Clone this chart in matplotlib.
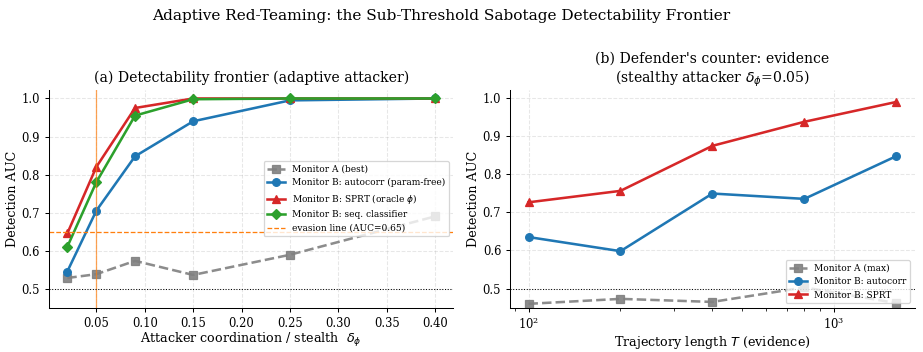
import numpy as np
import matplotlib
matplotlib.use("Agg")
import matplotlib.pyplot as plt

plt.rcParams['font.family'] = 'DejaVu Serif'

# (a) detectability frontier
delta_phi = [0.02, 0.05, 0.09, 0.15, 0.25, 0.40]
mon_a_best = [0.528, 0.538, 0.573, 0.536, 0.589, 0.690]
mon_b_autocorr = [0.545, 0.705, 0.848, 0.940, 0.995, 1.000]
mon_b_sprt = [0.645, 0.820, 0.975, 1.000, 1.000, 1.000]
mon_b_seq = [0.610, 0.780, 0.955, 0.998, 1.000, 1.000]
evasion_auc = 0.65
stealthy_delta = 0.05

# (b) evidence vs trajectory length
traj_T = [100, 200, 400, 800, 1600]
mon_a_max = [0.460, 0.473, 0.465, 0.503, 0.462]
b_autocorr = [0.635, 0.598, 0.749, 0.735, 0.847]
b_sprt = [0.726, 0.756, 0.874, 0.937, 0.989]

DPI = 92
fig, (ax1, ax2) = plt.subplots(1, 2, figsize=(923 / DPI, 352 / DPI), dpi=DPI)
fig.subplots_adjust(left=0.053, right=0.991, bottom=0.126, top=0.744, wspace=0.14)
fig.suptitle("Adaptive Red-Teaming: the Sub-Threshold Sabotage Detectability Frontier",
             fontsize=12, x=0.478, y=0.975)

# left panel
ax1.plot(delta_phi, mon_a_best, ls='--', marker='s', color='gray', lw=2, ms=6,
         alpha=0.9, label='Monitor A (best)')
ax1.plot(delta_phi, mon_b_autocorr, marker='o', color='tab:blue', lw=2, ms=6,
         label='Monitor B: autocorr (param-free)')
ax1.plot(delta_phi, mon_b_sprt, marker='^', color='tab:red', lw=2, ms=6,
         label=r'Monitor B: SPRT (oracle $\phi$)')
ax1.plot(delta_phi, mon_b_seq, marker='D', color='tab:green', lw=2, ms=6,
         label='Monitor B: seq. classifier')
ax1.axhline(evasion_auc, color='tab:orange', ls='--', lw=1,
            label='evasion line (AUC=0.65)')
ax1.axvline(stealthy_delta, color='tab:orange', lw=1, alpha=0.7)
ax1.axhline(0.5, color='black', ls=':', lw=0.8)
ax1.set_ylim(0.45, 1.022)
ax1.set_xlabel(r'Attacker coordination / stealth  $\delta_\phi$', fontsize=10, labelpad=1)
ax1.set_ylabel('Detection AUC', fontsize=10, labelpad=2)
ax1.set_title('(a) Detectability frontier (adaptive attacker)', fontsize=11)
ax1.legend(loc='center right', fontsize=7)

# right panel
ax2.plot(traj_T, mon_a_max, ls='--', marker='s', color='gray', lw=2, ms=6,
         alpha=0.9, label='Monitor A (max)')
ax2.plot(traj_T, b_autocorr, marker='o', color='tab:blue', lw=2, ms=6,
         label='Monitor B: autocorr')
ax2.plot(traj_T, b_sprt, marker='^', color='tab:red', lw=2, ms=6,
         label='Monitor B: SPRT')
ax2.axhline(0.5, color='black', ls=':', lw=0.8)
ax2.set_xscale('log')
ax2.set_ylim(0.45, 1.02)
ax2.set_xlabel(r'Trajectory length $T$ (evidence)', fontsize=10, labelpad=1)
ax2.set_ylabel('Detection AUC', fontsize=10, labelpad=2)
ax2.set_title("(b) Defender's counter: evidence\n" + r"(stealthy attacker $\delta_\phi$=0.05)",
              fontsize=11)
ax2.legend(loc='lower right', fontsize=7)

for ax in (ax1, ax2):
    ax.grid(True, ls='--', alpha=0.3)
    ax.tick_params(labelsize=9)
    for s in ['top', 'right']:
        ax.spines[s].set_visible(False)

fig.savefig('out.png', dpi=DPI)
